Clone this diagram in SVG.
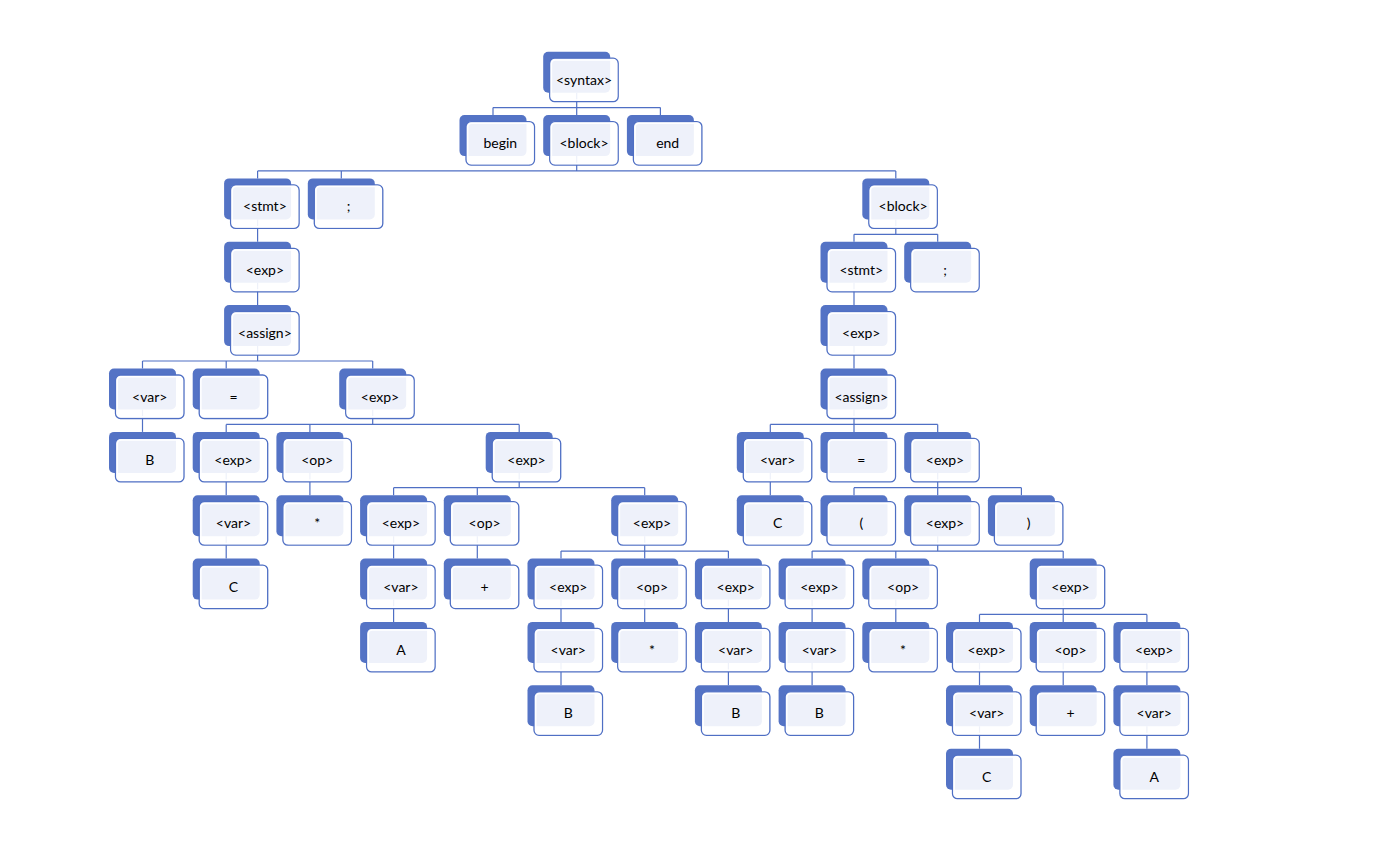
<svg xmlns="http://www.w3.org/2000/svg" xmlns:xlink="http://www.w3.org/1999/xlink" width="1400" height="850" viewBox="0 0 1400 850">
  <style>
    .edge { fill: none; stroke: #4F6FC4; stroke-width: 1.2; }
    .back { fill: #5473C5; }
    .front { fill: #ffffff; fill-opacity: 0.9; stroke: #4F6FC4; stroke-width: 1.3; }
    .rim { fill: none; stroke: #ffffff; stroke-width: 1.5; }
    text { font-family: "Lato", "Liberation Sans", sans-serif; font-size: 14px; fill: #000; text-anchor: middle; }
  </style>
  <defs>
    <!-- two stacked rounded boxes: solid back tab, translucent front card -->
    <g id="box">
      <rect class="back" x="0" y="0" width="67" height="41" rx="5"/>
      <rect class="front" x="6.5" y="6.5" width="68.5" height="43.5" rx="5"/>
      <rect class="rim" x="8.2" y="8.2" width="65.1" height="40.1" rx="4"/>
    </g>
  </defs>
  <rect width="1400" height="850" fill="#ffffff"/>

  <g id="connectors">
    <path class="edge" d="M576.7 92.7V107.6M493 107.6H660.4M493 107.6V115.1M576.7 107.6V115.1M660.4 107.6V115.1"/>
    <path class="edge" d="M576.7 156.1V170.9M257.6 170.9H895.8M257.6 170.9V178.4M341.3 170.9V178.4M895.8 170.9V178.4"/>
    <path class="edge" d="M257.6 219.4V241.8"/>
    <path class="edge" d="M895.8 219.4V234.3M854 234.3H937.7M854 234.3V241.8M937.7 234.3V241.8"/>
    <path class="edge" d="M257.6 282.8V305.1M854 282.8V305.1"/>
    <path class="edge" d="M257.6 346.1V361M142.5 361H372.7M142.5 361V368.5M226.2 361V368.5M372.7 361V368.5"/>
    <path class="edge" d="M854 346.1V368.5"/>
    <path class="edge" d="M142.5 409.5V431.9"/>
    <path class="edge" d="M372.7 409.5V424.4M226.2 424.4H519.2M226.2 424.4V431.9M309.9 424.4V431.9M519.2 424.4V431.9"/>
    <path class="edge" d="M854 409.5V424.4M770.3 424.4H937.7M770.3 424.4V431.9M854 424.4V431.9M937.7 424.4V431.9"/>
    <path class="edge" d="M226.2 472.9V495.2M309.9 472.9V495.2M770.3 472.9V495.2"/>
    <path class="edge" d="M519.2 472.9V487.7M393.6 487.7H644.7M393.6 487.7V495.2M477.3 487.7V495.2M644.7 487.7V495.2"/>
    <path class="edge" d="M937.7 472.9V487.7M854 487.7H1021.4M854 487.7V495.2M937.7 487.7V495.2M1021.4 487.7V495.2"/>
    <path class="edge" d="M226.2 536.2V558.6M393.6 536.2V558.6M477.3 536.2V558.6"/>
    <path class="edge" d="M644.7 536.2V551.1M561 551.1H728.4M561 551.1V558.6M644.7 551.1V558.6M728.4 551.1V558.6"/>
    <path class="edge" d="M937.7 536.2V551.1M812.1 551.1H1063.2M812.1 551.1V558.6M895.8 551.1V558.6M1063.2 551.1V558.6"/>
    <path class="edge" d="M393.6 599.6V621.9M561 599.6V621.9M644.7 599.6V621.9M728.4 599.6V621.9M812.1 599.6V621.9M895.8 599.6V621.9"/>
    <path class="edge" d="M1063.2 599.6V614.4M979.5 614.4H1146.9M979.5 614.4V621.9M1063.2 614.4V621.9M1146.9 614.4V621.9"/>
    <path class="edge" d="M561 662.9V685.3M728.4 662.9V685.3M812.1 662.9V685.3M979.5 662.9V685.3M1063.2 662.9V685.3M1146.9 662.9V685.3"/>
    <path class="edge" d="M979.5 726.3V748.7M1146.9 726.3V748.7"/>
  </g>

  <!-- level 0 -->
  <g id="n-syntax" transform="translate(543.2 51.7)"><use href="#box"/><text x="40.8" y="33">&lt;syntax&gt;</text></g>
  <!-- level 1 -->
  <g id="n-begin" transform="translate(459.5 115.1)"><use href="#box"/><text x="40.8" y="33">begin</text></g>
  <g id="n-block-1" transform="translate(543.2 115.1)"><use href="#box"/><text x="40.8" y="33">&lt;block&gt;</text></g>
  <g id="n-end" transform="translate(626.9 115.1)"><use href="#box"/><text x="40.8" y="33">end</text></g>
  <!-- level 2 -->
  <g id="n-stmt-1" transform="translate(224.1 178.4)"><use href="#box"/><text x="40.8" y="33">&lt;stmt&gt;</text></g>
  <g id="n-semi-1" transform="translate(307.8 178.4)"><use href="#box"/><text x="40.8" y="33">;</text></g>
  <g id="n-block-2" transform="translate(862.3 178.4)"><use href="#box"/><text x="40.8" y="33">&lt;block&gt;</text></g>
  <!-- level 3 -->
  <g id="n-exp-1" transform="translate(224.1 241.8)"><use href="#box"/><text x="40.8" y="33">&lt;exp&gt;</text></g>
  <g id="n-stmt-2" transform="translate(820.5 241.8)"><use href="#box"/><text x="40.8" y="33">&lt;stmt&gt;</text></g>
  <g id="n-semi-2" transform="translate(904.2 241.8)"><use href="#box"/><text x="40.8" y="33">;</text></g>
  <!-- level 4 -->
  <g id="n-assign-1" transform="translate(224.1 305.1)"><use href="#box"/><text x="40.8" y="33">&lt;assign&gt;</text></g>
  <g id="n-exp-2" transform="translate(820.5 305.1)"><use href="#box"/><text x="40.8" y="33">&lt;exp&gt;</text></g>
  <!-- level 5 -->
  <g id="n-var-1" transform="translate(109 368.5)"><use href="#box"/><text x="40.8" y="33">&lt;var&gt;</text></g>
  <g id="n-eq-1" transform="translate(192.7 368.5)"><use href="#box"/><text x="40.8" y="33">=</text></g>
  <g id="n-exp-3" transform="translate(339.2 368.5)"><use href="#box"/><text x="40.8" y="33">&lt;exp&gt;</text></g>
  <g id="n-assign-2" transform="translate(820.5 368.5)"><use href="#box"/><text x="40.8" y="33">&lt;assign&gt;</text></g>
  <!-- level 6 -->
  <g id="n-b-1" transform="translate(109 431.9)"><use href="#box"/><text x="40.8" y="33">B</text></g>
  <g id="n-exp-4" transform="translate(192.7 431.9)"><use href="#box"/><text x="40.8" y="33">&lt;exp&gt;</text></g>
  <g id="n-op-1" transform="translate(276.4 431.9)"><use href="#box"/><text x="40.8" y="33">&lt;op&gt;</text></g>
  <g id="n-exp-5" transform="translate(485.7 431.9)"><use href="#box"/><text x="40.8" y="33">&lt;exp&gt;</text></g>
  <g id="n-var-2" transform="translate(736.8 431.9)"><use href="#box"/><text x="40.8" y="33">&lt;var&gt;</text></g>
  <g id="n-eq-2" transform="translate(820.5 431.9)"><use href="#box"/><text x="40.8" y="33">=</text></g>
  <g id="n-exp-6" transform="translate(904.2 431.9)"><use href="#box"/><text x="40.8" y="33">&lt;exp&gt;</text></g>
  <!-- level 7 -->
  <g id="n-var-3" transform="translate(192.7 495.2)"><use href="#box"/><text x="40.8" y="33">&lt;var&gt;</text></g>
  <g id="n-mul-1" transform="translate(276.4 495.2)"><use href="#box"/><text x="40.8" y="33">*</text></g>
  <g id="n-exp-7" transform="translate(360.1 495.2)"><use href="#box"/><text x="40.8" y="33">&lt;exp&gt;</text></g>
  <g id="n-op-2" transform="translate(443.8 495.2)"><use href="#box"/><text x="40.8" y="33">&lt;op&gt;</text></g>
  <g id="n-exp-8" transform="translate(611.2 495.2)"><use href="#box"/><text x="40.8" y="33">&lt;exp&gt;</text></g>
  <g id="n-c-1" transform="translate(736.8 495.2)"><use href="#box"/><text x="40.8" y="33">C</text></g>
  <g id="n-lparen" transform="translate(820.5 495.2)"><use href="#box"/><text x="40.8" y="33">(</text></g>
  <g id="n-exp-9" transform="translate(904.2 495.2)"><use href="#box"/><text x="40.8" y="33">&lt;exp&gt;</text></g>
  <g id="n-rparen" transform="translate(987.9 495.2)"><use href="#box"/><text x="40.8" y="33">)</text></g>
  <!-- level 8 -->
  <g id="n-c-2" transform="translate(192.7 558.6)"><use href="#box"/><text x="40.8" y="33">C</text></g>
  <g id="n-var-4" transform="translate(360.1 558.6)"><use href="#box"/><text x="40.8" y="33">&lt;var&gt;</text></g>
  <g id="n-plus-1" transform="translate(443.8 558.6)"><use href="#box"/><text x="40.8" y="33">+</text></g>
  <g id="n-exp-10" transform="translate(527.5 558.6)"><use href="#box"/><text x="40.8" y="33">&lt;exp&gt;</text></g>
  <g id="n-op-3" transform="translate(611.2 558.6)"><use href="#box"/><text x="40.8" y="33">&lt;op&gt;</text></g>
  <g id="n-exp-11" transform="translate(694.9 558.6)"><use href="#box"/><text x="40.8" y="33">&lt;exp&gt;</text></g>
  <g id="n-exp-12" transform="translate(778.6 558.6)"><use href="#box"/><text x="40.8" y="33">&lt;exp&gt;</text></g>
  <g id="n-op-4" transform="translate(862.3 558.6)"><use href="#box"/><text x="40.8" y="33">&lt;op&gt;</text></g>
  <g id="n-exp-13" transform="translate(1029.7 558.6)"><use href="#box"/><text x="40.8" y="33">&lt;exp&gt;</text></g>
  <!-- level 9 -->
  <g id="n-a-1" transform="translate(360.1 621.9)"><use href="#box"/><text x="40.8" y="33">A</text></g>
  <g id="n-var-5" transform="translate(527.5 621.9)"><use href="#box"/><text x="40.8" y="33">&lt;var&gt;</text></g>
  <g id="n-mul-2" transform="translate(611.2 621.9)"><use href="#box"/><text x="40.8" y="33">*</text></g>
  <g id="n-var-6" transform="translate(694.9 621.9)"><use href="#box"/><text x="40.8" y="33">&lt;var&gt;</text></g>
  <g id="n-var-7" transform="translate(778.6 621.9)"><use href="#box"/><text x="40.8" y="33">&lt;var&gt;</text></g>
  <g id="n-mul-3" transform="translate(862.3 621.9)"><use href="#box"/><text x="40.8" y="33">*</text></g>
  <g id="n-exp-14" transform="translate(946 621.9)"><use href="#box"/><text x="40.8" y="33">&lt;exp&gt;</text></g>
  <g id="n-op-5" transform="translate(1029.7 621.9)"><use href="#box"/><text x="40.8" y="33">&lt;op&gt;</text></g>
  <g id="n-exp-15" transform="translate(1113.4 621.9)"><use href="#box"/><text x="40.8" y="33">&lt;exp&gt;</text></g>
  <!-- level 10 -->
  <g id="n-b-2" transform="translate(527.5 685.3)"><use href="#box"/><text x="40.8" y="33">B</text></g>
  <g id="n-b-3" transform="translate(694.9 685.3)"><use href="#box"/><text x="40.8" y="33">B</text></g>
  <g id="n-b-4" transform="translate(778.6 685.3)"><use href="#box"/><text x="40.8" y="33">B</text></g>
  <g id="n-var-8" transform="translate(946 685.3)"><use href="#box"/><text x="40.8" y="33">&lt;var&gt;</text></g>
  <g id="n-plus-2" transform="translate(1029.7 685.3)"><use href="#box"/><text x="40.8" y="33">+</text></g>
  <g id="n-var-9" transform="translate(1113.4 685.3)"><use href="#box"/><text x="40.8" y="33">&lt;var&gt;</text></g>
  <!-- level 11 -->
  <g id="n-c-3" transform="translate(946 748.7)"><use href="#box"/><text x="40.8" y="33">C</text></g>
  <g id="n-a-2" transform="translate(1113.4 748.7)"><use href="#box"/><text x="40.8" y="33">A</text></g>
</svg>
